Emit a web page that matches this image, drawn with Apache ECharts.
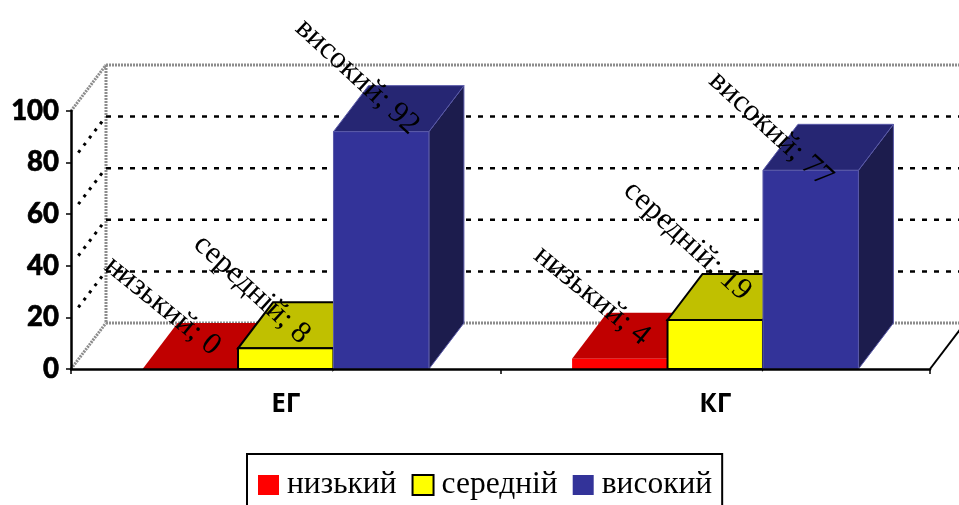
<!DOCTYPE html>
<html>
<head>
<meta charset="utf-8">
<style>html,body{margin:0;padding:0;background:#fff}#chart{width:959px;height:505px}</style>
<script src="https://cdn.jsdelivr.net/npm/echarts@6/dist/echarts.min.js"></script>
</head>
<body>
<div id="chart"></div>
<script>
// Levels by group
const categories = ['ЕГ', 'КГ'];
const levelNames = ['низький', 'середній', 'високий'];
const lowValues = [0, 4];
const midValues = [8, 19];
const highValues = [92, 77];
const gridValues = [20, 40, 60, 80];

// Oblique projection of the chart's depth, in pixels
const DEPTH_X = 35;
const DEPTH_Y = 46;
const GAP_RATIO = 1.5;

const faces = [
  { front: '#FF0000', top: '#C00000', side: '#800000', stroke: null, edge: 0 },
  { front: '#FFFF00', top: '#C0C000', side: '#808000', stroke: '#000', edge: 2 },
  { front: '#333399', top: '#262673', side: '#1C1C4D', stroke: '#5A5AA8', edge: 1 }
];
// Label centre relative to the bar's top front centre, and label slant per level
const labelOffsets = [
  [[-28, -63], [-28, -63]],
  [[-34, -59], [-28, -79]],
  [[-24, -55], [-40, -41]]
];
const labelAngles = [39, 42.5, 42.5];

function barRenderer(levelIndex) {
  return function (params, api) {
    const cat = api.value(0), val = api.value(1);
    const band = api.size([1, 0])[0];
    const barW = band / (levelNames.length + GAP_RATIO);
    const centre = api.coord([cat, 0])[0];
    const x0 = centre + (levelIndex - levelNames.length / 2) * barW;
    const x1 = x0 + barW;
    const yBase = api.coord([cat, 0])[1];
    const yTop = api.coord([cat, val])[1];
    const f = faces[levelIndex];
    const base = { stroke: f.stroke || 'none', lineWidth: f.edge, lineJoin: 'miter' };
    const off = labelOffsets[levelIndex][cat];
    const top = [[x0, yTop], [x1, yTop], [x1 + DEPTH_X, yTop - DEPTH_Y], [x0 + DEPTH_X, yTop - DEPTH_Y]];
    const side = [[x1, yTop], [x1 + DEPTH_X, yTop - DEPTH_Y], [x1 + DEPTH_X, yBase - DEPTH_Y], [x1, yBase]];
    const children = [
      { type: 'polygon', shape: { points: side }, style: Object.assign({ fill: f.side }, base) },
      { type: 'polygon', shape: { points: top }, style: Object.assign({ fill: f.top }, base) }
    ];
    if (yBase > yTop) {
      children.push({ type: 'rect', shape: { x: x0, y: yTop, width: barW, height: yBase - yTop },
        style: Object.assign({ fill: f.front }, base) });
    }
    children.push({
      type: 'text', x: centre + (levelIndex - 1) * barW + off[0], y: yTop + off[1], z2: 100,
      rotation: -labelAngles[levelIndex] * Math.PI / 180,
      style: {
        text: levelNames[levelIndex] + '; ' + val,
        fontFamily: '"Liberation Serif"', fontSize: 31, fill: '#000',
        align: 'center', verticalAlign: 'middle'
      }
    });
    return { type: 'group', children: children };
  };
}

function wallRenderer(params, api) {
  const p00 = api.coord([0, 0]);
  const left = p00[0] - api.size([1, 0])[0] / 2;
  const right = left + api.size([1, 0])[0] * categories.length;
  const y0 = api.coord([0, 0])[1];
  const y100 = api.coord([0, 100])[1];
  const bx = left + DEPTH_X;
  const wall = { stroke: '#8c8c8c', lineWidth: 3, lineDash: [2, 1], fill: 'none' };
  const grid = { stroke: '#000', lineWidth: 2.5, lineDash: [5, 7], fill: 'none' };
  const line = (a, b, c, d, style) => ({ type: 'line', shape: { x1: a, y1: b, x2: c, y2: d }, style: style });
  const children = [
    line(bx, y100 - DEPTH_Y, 959, y100 - DEPTH_Y, wall),
    line(bx, y0 - DEPTH_Y, 959, y0 - DEPTH_Y, wall),
    line(bx, y100 - DEPTH_Y, bx, y0 - DEPTH_Y, wall),
    line(left, y100, bx, y100 - DEPTH_Y, wall),
    line(left, y0, bx, y0 - DEPTH_Y, wall),
    line(right, y0, right + DEPTH_X, y0 - DEPTH_Y, { stroke: '#000', lineWidth: 2 })
  ];
  gridValues.forEach(function (v) {
    const y = api.coord([0, v])[1];
    children.push(line(bx, y - DEPTH_Y, 959, y - DEPTH_Y, grid));
    children.push(line(bx - 4, y - DEPTH_Y + 5, left + 5, y - 7,
      { stroke: '#000', lineWidth: 3, lineDash: [3, 6], fill: 'none' }));
  });
  return { type: 'group', children: children };
}

const valueRows = [lowValues, midValues, highValues];
const legendStyles = [
  { color: '#FF0000' },
  { color: '#FFFF00', borderColor: '#000', borderWidth: 2 },
  { color: '#333399' }
];

const chart = echarts.init(document.getElementById('chart'), null, { renderer: 'canvas' });
chart.setOption({
  animation: false,
  backgroundColor: '#fff',
  grid: { left: 71, right: 29, top: 111, bottom: 136 },
  xAxis: {
    type: 'category',
    data: categories,
    z: 5,
    axisLine: { lineStyle: { color: '#000', width: 2.5 } },
    axisTick: { show: true, length: 5, lineStyle: { color: '#000', width: 1.5 } },
    axisLabel: { color: '#000', fontFamily: '"Open Sans"', fontWeight: 700, fontSize: 26, margin: 23 },
    splitLine: { show: false }
  },
  yAxis: {
    type: 'value',
    min: 0, max: 100, interval: 20,
    z: 5,
    axisLine: { show: true, lineStyle: { color: '#000', width: 2.5 } },
    axisTick: { show: true, length: 5, lineStyle: { color: '#000', width: 1.5 } },
    axisLabel: {
      color: '#000', fontFamily: 'Lato', fontWeight: 900, fontSize: 27.5, margin: 12,
      padding: [4, 0, 0, 0], textBorderColor: '#000', textBorderWidth: 0.6
    },
    splitLine: { show: false }
  },
  legend: {
    left: 247, top: 454,
    padding: [15, 10, 30, 11],
    backgroundColor: '#fff',
    borderColor: '#000', borderWidth: 2, borderRadius: 0,
    itemWidth: 21, itemHeight: 20, itemGap: 15,
    textStyle: { fontFamily: '"Liberation Serif"', fontSize: 31.5, color: '#000', padding: [0, 0, 0, 3] },
    data: levelNames.map(function (n, i) {
      return { name: n, icon: 'rect', itemStyle: legendStyles[i] };
    })
  },
  series: [
    {
      type: 'custom', name: 'walls', z: 1, silent: true,
      renderItem: wallRenderer, data: [[0, 0]], clip: false,
      encode: { x: 0, y: 1 }
    }
  ].concat(levelNames.map(function (n, i) {
    return {
      type: 'custom', name: n, z: 2 + i, clip: false,
      itemStyle: { color: legendStyles[i].color },
      renderItem: barRenderer(i),
      encode: { x: 0, y: 1 },
      data: valueRows[i].map(function (v, c) { return [c, v]; })
    };
  }))
});
</script>
</body>
</html>
